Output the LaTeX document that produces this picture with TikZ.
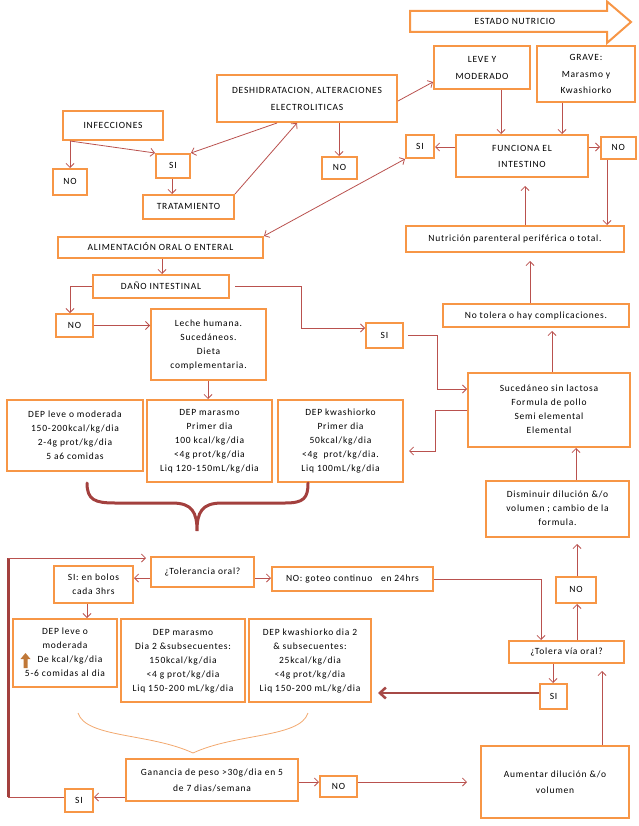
\documentclass[tikz,border=0pt]{standalone}
\usepackage{fontspec}
\setmainfont{Carlito}[LetterSpace=8]
\usetikzlibrary{arrows.meta,fit,calc}
\definecolor{boxorange}{HTML}{F79646}
\definecolor{arrred}{HTML}{B9514E}
\definecolor{bracered}{HTML}{A3403E}
\definecolor{braceorange}{HTML}{F2A86E}
\definecolor{upbrown}{HTML}{C07838}
\newcommand\boxtext[1]{\begin{tabular}{@{}c@{}}#1\end{tabular}}
\tikzset{
  box/.style={draw=boxorange, line width=2pt, fill=white, inner sep=0pt},
  txt/.style={inner sep=0pt, font=\fontsize{9.5}{14}\selectfont},
  txtw/.style={inner sep=0pt, font=\fontsize{9.5}{16.5}\selectfont},
  arr/.style={draw=arrred, line width=0.8pt, -{Straight Barb[length=4pt,width=8pt]}},
  arrboth/.style={draw=arrred, line width=0.8pt, {Straight Barb[length=4pt,width=8pt]}-{Straight Barb[length=4pt,width=8pt]}},
  plainline/.style={draw=arrred, line width=0.8pt},
  thickline/.style={draw=bracered, line width=3pt},
  fatarr/.style={draw=arrred!90!black, line width=2.5pt, -{Straight Barb[length=6pt,width=11pt,line width=2.5pt]}},
}
% \bx{name}{x1,y1}{x2,y2}{style}{text}
\newcommand\bx[5]{%
  \node[box, fit={(#2)(#3)}] (#1) {};
  \node[#4] (#1-t) at (#1.center) {\boxtext{#5}};}
\begin{document}
\begin{tikzpicture}[x=1pt,y=-1pt]
\useasboundingbox (0,0) rectangle (638,826);
% ESTADO NUTRICIO arrow
\draw[boxorange, line width=2pt, fill=white, line join=miter]
  (410,11) -- (607,11) -- (607,1.5) -- (631,22) -- (607,43) -- (607,32) -- (410,32) -- cycle;
\node[txt] (est) at (515,22) {\boxtext{ESTADO NUTRICIO}};
% top nodes
\bx{leve}{434,46}{530,89}{txtw}{LEVE Y\\MODERADO}
\bx{grave}{537,46}{635,102}{txtw}{GRAVE:\\Marasmo y\\Kwashiorko}
\bx{desh}{217,75}{397,122}{txtw}{DESHIDRATACION, ALTERACIONES\\ELECTROLITICAS}
\bx{func}{456,135}{588,177}{txtw}{FUNCIONA EL\\INTESTINO}
\bx{siR}{406,135}{434,158}{txt}{SI}
\bx{noR}{601,137}{635.5,159}{txt}{NO}
\bx{noM}{322,157}{357,179}{txt}{NO}
\bx{inf}{63,111}{163,140}{txt}{INFECCIONES}
\bx{noL}{53,169}{87,195}{txt}{NO}
\bx{siL}{156,154}{190,178}{txt}{SI}
\bx{trat}{143,195}{234,219}{txt}{TRATAMIENTO}
\bx{alim}{58,237}{263,258}{txt}{ALIMENTACIÓN ORAL O ENTERAL}
\bx{dano}{93,275}{229,298}{txt}{DAÑO INTESTINAL}
\bx{no2}{56,314}{93,337}{txt}{NO}
\bx{leche}{151,309}{266,380}{txt}{Leche humana.\\Sucedáneos.\\Dieta\\complementaria.}
\bx{si2}{366,323}{403,348}{txt}{SI}
\bx{npt}{406,226}{624,252}{txt}{Nutrición parenteral periférica o total.}
\bx{notol}{443,304}{629,327}{txt}{No tolera o hay complicaciones.}
\bx{suc}{468,373}{630,447}{txt}{Sucedáneo sin lactosa\\Formula de pollo\\Semi elemental\\Elemental}
\bx{dep1}{7,400}{143,471}{txt}{DEP leve o moderada\\150-200kcal/kg/dia\\2-4g prot/kg/dia\\5 a6 comidas}
\bx{mar1}{147,400}{272,482}{txt}{DEP marasmo\\Primer dia\\100 kcal/kg/dia\\<4g prot/kg/dia\\Liq 120-150mL/kg/dia}
\bx{kw1}{278,400}{403,482}{txt}{DEP kwashiorko\\Primer dia\\50kcal/kg/dia\\<4g\ \ prot/kg/dia.\\Liq 100mL/kg/dia}
\bx{dism}{486,481}{629,537}{txt}{Disminuir dilución \&/o\\volumen ; cambio de la\\formula.}
% lower part
\bx{tolo}{151,557}{254,587}{txt}{¿Tolerancia oral?}
\bx{bolos}{54,566}{133,603}{txt}{SI: en bolos\\cada 3hrs}
\bx{gote}{272,567}{433,591}{txt}{NO: goteo continuo\ \ \ en 24hrs}
\bx{noLR}{556,577}{596,603}{txt}{NO}
\bx{tolv}{509,641}{624,663}{txt}{¿Tolera vía oral?}
\bx{siLR}{540,684}{567,709}{txt}{SI}
\bx{dep2}{13,619}{117,687}{txt}{DEP leve o\\moderada\\\hspace*{10pt}De kcal/kg/dia\\5-6 comidas al dia}
\bx{mar2}{121,619}{245,702}{txt}{DEP marasmo\\Dia 2 \&subsecuentes:\\150kcal/kg/dia\\<4 g prot/kg/dia\\Liq 150-200 mL/kg/dia}
\bx{kw2}{249,619}{371,702}{txt}{DEP kwashiorko dia 2\\\& subsecuentes:\\25kcal/kg/dia\\<4g prot/kg/dia\\Liq 150-200 mL/kg/dia}
\bx{gan}{126,759}{298,801}{txtw}{Ganancia de peso >30g/dia en 5\\de 7 dias/semana}
\bx{siB}{65,789}{93,812}{txt}{SI}
\bx{noB}{320,776}{357,797}{txt}{NO}
\bx{aum}{481,746}{629,818}{txtw}{Aumentar dilución \&/o\\volumen}
% up arrow icon
\fill[upbrown] (25.5,653) -- (30.5,659) -- (27.5,659) -- (27.5,668) -- (23.5,668) -- (23.5,659) -- (20.5,659) -- cycle;
% connectors top
\draw[arr] (70,0 |- inf.south) -- (siL.north west);
\draw[arr] (70,0 |- inf.south) -- (70,0 |- noL.north);
\draw[arr] (277,0 |- desh.south) -- (siL.north east);
\draw[arr] (172,0 |- siL.south) -- (172,0 |- trat.north);
\draw[arr] (trat.north east) -- (297,0 |- desh.south);
\draw[arr] (339,0 |- desh.south) -- (339,0 |- noM.north);
\draw[arr] (desh.east |- 0,101) -- (leve.west |- 0,82);
\draw[arr] (501,0 |- leve.south) -- (501,0 |- func.north);
\draw[arr] (562,0 |- grave.south) -- (562,0 |- func.north);
\draw[arr] (func.west |- 0,147) -- (siR.east |- 0,147);
\draw[arr] (func.east |- 0,147) -- (noR.west |- 0,147);
\draw[arr] (607,0 |- noR.south) -- (607,0 |- npt.north);
\draw[arr, shorten >=8pt] (525,0 |- npt.north) -- (525,0 |- func.south);
\draw[arr, shorten >=8pt] (530,0 |- notol.north) -- (530,0 |- npt.south);
\draw[arr, shorten >=3pt] (552,0 |- suc.north) -- (552,0 |- notol.south);
\draw[arrboth] (alim.north east) -- (siR.south west);
\draw[arr] (162,0 |- alim.south) -- (162,0 |- dano.north);
\draw[arr] (dano.west) -- (70,0 |- dano.west) -- (70,0 |- no2.north);
\draw[arr, shorten <=5pt] (dano.east) -- (301,0 |- dano.east) -- (301,328) -- (si2.west |- 0,328);
\draw[arr] (no2.east) -- (leche.west |- no2.east);
\draw[arr] (208,0 |- leche.south) -- (208,0 |- mar1.north);
\draw[arr, shorten <=4pt] (si2.east) -- (437,0 |- si2.east) -- (437,389) -- (suc.west |- 0,389);
\draw[arr, shorten >=5pt] (suc.west |- 0,410) -- (435,410) -- (435,451) -- (kw1.east |- 0,451);
\draw[arr] (576,0 |- dism.north) -- (576,0 |- suc.south);
\draw[arr, shorten >=6pt] (577,0 |- noLR.north) -- (577,0 |- dism.south);
\draw[arr] (577,0 |- tolv.north) -- (577,0 |- noLR.south);
\draw[arr] (gote.east) -- (541,0 |- gote.east) -- (541,0 |- tolv.north);
\draw[arr] (tolo.west |- 0,578) -- (bolos.east |- 0,578);
\draw[arr] (tolo.east |- 0,578) -- (gote.west |- 0,578);
\draw[arr] (87,0 |- bolos.south) -- (87,0 |- dep2.north);
% left loop
\coordinate (lt) at (8,558);
\coordinate (lb) at (8,797);
\draw[thickline] (lt) -- (lb);
\draw[arr, shorten >=4pt] (lt) -- (tolo.west |- lt);
\draw[plainline] (siB.west |- lb) -- (lb);
\draw[arr] (gan.west |- 0,797) -- (siB.east |- 0,797);
\draw[arr] (gan.east |- 0,782) -- (noB.west |- 0,782);
\draw[arr, shorten >=13pt] (noB.east |- 0,782) -- (aum.west |- 0,782);
\draw[arr, shorten >=7pt] (602,0 |- aum.north) -- (602,0 |- tolv.south);
\draw[arr] (553,0 |- tolv.south) -- (553,0 |- siLR.north);
\draw[fatarr, shorten >=6pt] (siLR.west |- 0,693) -- (kw2.east |- 0,693);
% braces
\draw[bracered, line width=3pt, line cap=round]
  (87,483) .. controls (87,500) and (95,503) .. (115,503) -- (172,503)
  .. controls (192,503) and (197,512) .. (197,531)
  .. controls (197,512) and (202,503) .. (222,503) -- (285,503)
  .. controls (304,503) and (308,498) .. (308,483);
\draw[braceorange, line width=0.8pt]
  (78,713) .. controls (86,738) and (150,733) .. (193,753)
  .. controls (236,733) and (300,738) .. (308,713);
\end{tikzpicture}
\end{document}
